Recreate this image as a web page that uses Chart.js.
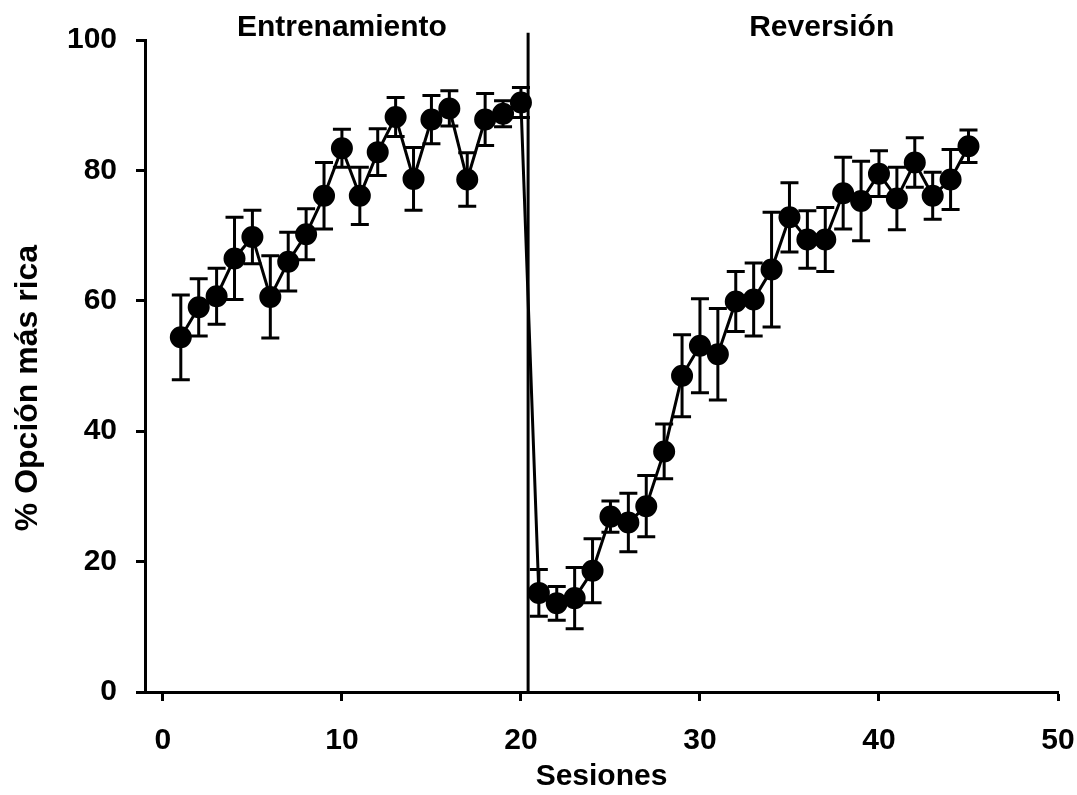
<!DOCTYPE html>
<html>
<head>
<meta charset="utf-8">
<script src="https://cdn.jsdelivr.net/npm/chart.js@4.4.0/dist/chart.umd.min.js"></script>
<style>
  body { margin: 0; background: #fff; }
  #wrap { width: 1077px; height: 795px; }
</style>
</head>
<body>
<div id="wrap"><canvas id="myChart" width="1077" height="795"></canvas></div>
<script>
// sessions 1-45 (training 1-20, reversal 21-45)
const sessions = [1, 2, 3, 4, 5, 6, 7, 8, 9, 10, 11, 12, 13, 14, 15, 16, 17, 18, 19, 20,
  21, 22, 23, 24, 25, 26, 27, 28, 29, 30, 31, 32, 33, 34, 35, 36, 37, 38, 39, 40,
  41, 42, 43, 44, 45];
// % choice of the richer option
const meanChoice = [54.4, 59.0, 60.7, 66.5, 69.8, 60.6, 66.0, 70.2, 76.1, 83.4,
  76.1, 82.8, 88.2, 78.7, 87.8, 89.5, 78.6, 87.8, 88.7, 90.4,
  15.2, 13.6, 14.4, 18.6, 26.9, 26.0, 28.5, 36.9, 48.5, 53.1,
  51.8, 59.9, 60.2, 64.8, 72.8, 69.4, 69.4, 76.5, 75.3, 79.5,
  75.7, 81.2, 76.1, 78.6, 83.7];
// error (SEM)
const semChoice = [6.5, 4.4, 4.3, 6.3, 4.1, 6.3, 4.5, 3.9, 5.1, 2.9,
  4.4, 3.6, 3.0, 4.8, 3.7, 2.7, 4.1, 4.0, 2.0, 2.3,
  3.6, 2.6, 4.7, 4.9, 2.4, 4.5, 4.7, 4.2, 6.3, 7.2,
  7.0, 4.6, 5.6, 8.8, 5.3, 4.4, 4.9, 5.5, 6.1, 3.5,
  4.8, 3.8, 3.6, 4.6, 2.5];
const xTicks = [0, 10, 20, 30, 40, 50];
const yTicks = [0, 20, 40, 60, 80, 100];
const phaseBreak = 20.4;
const phaseLabels = ['Entrenamiento', 'Reversión'];
const phaseLabelX = [10, 36.8];

const FONT = '"Liberation Sans", Arial, sans-serif';

const points = sessions.map((s, i) => ({x: s, y: meanChoice[i]}));

// error bars, drawn under the dots
const errorBars = {
    id: 'errorBars',
    beforeDatasetsDraw(chart) {
        const ctx = chart.ctx;
        const xs = chart.scales.x, ys = chart.scales.y;
        ctx.save();
        ctx.strokeStyle = '#000';
        ctx.lineWidth = 3;
        sessions.forEach((s, i) => {
            const px = xs.getPixelForValue(s);
            const top = ys.getPixelForValue(meanChoice[i] + semChoice[i]);
            const bot = ys.getPixelForValue(meanChoice[i] - semChoice[i]);
            ctx.beginPath();
            ctx.moveTo(px, top); ctx.lineTo(px, bot);
            ctx.moveTo(px - 9, top); ctx.lineTo(px + 9, top);
            ctx.moveTo(px - 9, bot); ctx.lineTo(px + 9, bot);
            ctx.stroke();
        });
        ctx.restore();
    }
};

// phase names and y title
const labelsPlugin = {
    id: 'labelsPlugin',
    afterDraw(chart) {
        const ctx = chart.ctx;
        const area = chart.chartArea;
        ctx.save();
        ctx.fillStyle = '#000';
        ctx.font = 'bold 30px ' + FONT;
        ctx.textAlign = 'center';
        ctx.textBaseline = 'middle';
        phaseLabels.forEach((t, i) => {
            ctx.fillText(t, chart.scales.x.getPixelForValue(phaseLabelX[i]), area.top - 12);
        });
        ctx.font = 'bold 32px ' + FONT;
        ctx.translate(28, (area.top + area.bottom) / 2 + 22);
        ctx.rotate(-Math.PI / 2);
        ctx.fillText('% Opción más rica', 0, 0);
        ctx.restore();
    }
};

new Chart('myChart', {
    type: 'line',
    data: {
        datasets: [{
            data: points,
            borderColor: '#000',
            backgroundColor: '#000',
            borderWidth: 3,
            pointRadius: 9.5,
            pointHoverRadius: 9.5,
            pointBackgroundColor: '#000',
            pointBorderColor: '#000',
            tension: 0,
        }, {
            data: [{x: phaseBreak, y: 0}, {x: phaseBreak, y: 101.1}],
            borderColor: '#000',
            borderWidth: 3,
            pointRadius: 0,
            clip: false,
        }],
    },
    options: {
        responsive: false,
        animation: false,
        layout: {padding: {top: 40, right: 19, left: 0, bottom: 0}},
        plugins: {legend: {display: false}, tooltip: {enabled: false}},
        scales: {
            x: {
                type: 'linear',
                min: -1,
                max: 50,
                afterFit: (s) => {
                    s.height = 103;
                    s.paddingLeft = 0;
                    s.paddingRight = 0;
                },
                afterBuildTicks: (s) => { s.ticks = xTicks.map(v => ({value: v})); },
                border: {display: true, color: '#000', width: 3},
                grid: {drawOnChartArea: false, drawTicks: true, tickLength: 9, tickWidth: 3, tickColor: '#000'},
                ticks: {color: '#000', padding: 22, font: {family: FONT, size: 30, weight: 'bold'}},
                title: {
                    display: true, text: 'Sesiones', color: '#000',
                    padding: {top: 0, bottom: 0},
                    font: {family: FONT, size: 30, weight: 'bold'},
                },
            },
            y: {
                min: 0,
                max: 100,
                afterFit: (s) => { s.width = 145; },
                afterBuildTicks: (s) => { s.ticks = yTicks.map(v => ({value: v})); },
                border: {display: true, color: '#000', width: 3},
                grid: {drawOnChartArea: false, drawTicks: true, tickLength: 9, tickWidth: 3, tickColor: '#000'},
                ticks: {color: '#000', padding: 19, font: {family: FONT, size: 30, weight: 'bold'}},
            },
        },
    },
    plugins: [errorBars, labelsPlugin],
});
</script>
</body>
</html>
